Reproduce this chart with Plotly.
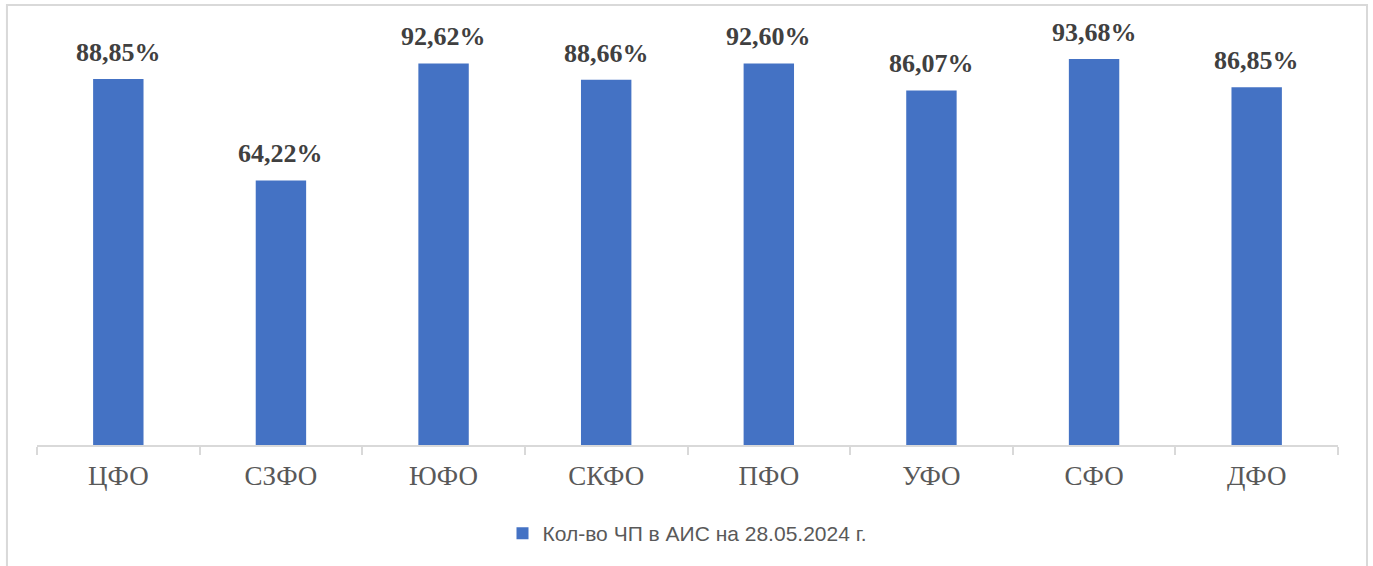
import plotly.graph_objects as go

categories = ["ЦФО", "СЗФО", "ЮФО", "СКФО", "ПФО", "УФО", "СФО", "ДФО"]
values = [88.85, 64.22, 92.62, 88.66, 92.60, 86.07, 93.68, 86.85]
labels = ["88,85%", "64,22%", "92,62%", "88,66%", "92,60%", "86,07%", "93,68%", "86,85%"]
series_name = "Кол-во ЧП в АИС на 28.05.2024 г."

fig = go.Figure()
fig.add_trace(go.Bar(
    x=categories, y=values, name=series_name,
    marker=dict(color="#4472C4", line=dict(width=0)),
    showlegend=True,
))

for c, v, t in zip(categories, values, labels):
    fig.add_annotation(x=c, y=v, text="<b>" + t + "</b>", showarrow=False,
                       yanchor="bottom", yshift=10,
                       font=dict(family="Liberation Serif", size=26, color="#404040"))

fig.update_layout(
    width=1373, height=566,
    margin=dict(l=37, r=35, t=33, b=121),
    paper_bgcolor="white", plot_bgcolor="white",
    bargap=0.69,
    showlegend=True,
    legend=dict(orientation="h", x=0.5, xanchor="center", y=-0.215, yanchor="middle",
                font=dict(family="Liberation Sans", size=21, color="#595959")),
    xaxis=dict(showline=True, linecolor="#d9d9d9", linewidth=1.5,
               ticks="outside", tickson="boundaries", ticklen=8, tickcolor="#d9d9d9",
               tickwidth=1.5, showgrid=False, ticklabelstandoff=6,
               tickfont=dict(family="Liberation Serif", size=27, color="#595959")),
    yaxis=dict(range=[0, 100], visible=False, showgrid=False, zeroline=False),
)

fig.add_shape(type="rect", xref="paper", yref="paper",
              x0=-0.0231, x1=1.0223, y0=-0.31, y1=1.068,
              line=dict(color="#d9d9d9", width=2), fillcolor="rgba(0,0,0,0)", layer="below")

fig.write_html("out.html", config={"displayModeBar": False},
               post_script="document.body.style.margin='0';document.body.style.overflow='hidden';")
